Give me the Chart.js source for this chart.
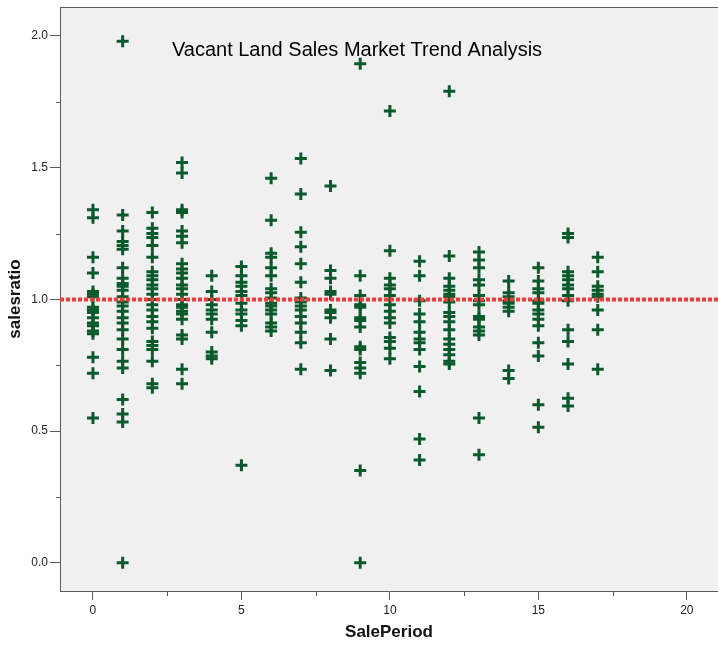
<!DOCTYPE html>
<html>
<head>
<meta charset="utf-8">
<title>Vacant Land Sales Market Trend Analysis</title>
<script src="https://cdn.jsdelivr.net/npm/chart.js@4.4.1/dist/chart.umd.min.js"></script>
<style>
  html, body { margin: 0; padding: 0; background: #fff; }
  #wrap { width: 718px; height: 649px; }
</style>
</head>
<body>
<div id="wrap"><canvas id="salesChart" width="718" height="649"></canvas></div>
<script>
// ==========================================
// Data
// ==========================================
const chartTitle = "Vacant Land Sales Market Trend Analysis";
const xTitle = "SalePeriod";
const yTitle = "salesratio";

// tick labels
const xTicks = [0, 5, 10, 15, 20];
const xMinorTicks = [2.5, 7.5, 12.5, 17.5];
const yTicks = [0, 0.5, 1.0, 1.5, 2.0];
const yMinorTicks = [0.25, 0.75, 1.25, 1.75];

// reference line
const referenceRatio = 1.0;

// sales ratios per sale period
const period0 = [1.34, 1.31, 1.16, 1.10, 1.03, 1.02, 1.01, 0.97, 0.96, 0.95, 0.93, 0.91, 0.90, 0.88, 0.87, 0.78, 0.72, 0.55];
const period1 = [1.98, 1.32, 1.26, 1.22, 1.205, 1.19, 1.12, 1.08, 1.06, 1.05, 1.035, 1.01, 0.99, 0.975, 0.955, 0.93, 0.91, 0.885, 0.85, 0.81, 0.765, 0.74, 0.62, 0.565, 0.535, 0.0];
const period2 = [1.33, 1.27, 1.25, 1.235, 1.205, 1.16, 1.105, 1.09, 1.075, 1.055, 1.04, 1.02, 1.0, 0.98, 0.96, 0.935, 0.915, 0.89, 0.84, 0.825, 0.81, 0.765, 0.68, 0.665];
const period3 = [1.52, 1.48, 1.34, 1.33, 1.26, 1.24, 1.215, 1.135, 1.115, 1.10, 1.08, 1.055, 1.04, 1.02, 1.0, 0.98, 0.97, 0.955, 0.945, 0.925, 0.865, 0.85, 0.735, 0.68];
const period4 = [1.09, 1.03, 1.0, 0.98, 0.96, 0.945, 0.925, 0.875, 0.80, 0.785, 0.775];
const period5 = [1.125, 1.09, 1.065, 1.05, 1.03, 1.015, 0.985, 0.96, 0.945, 0.92, 0.90, 0.37];
const period6 = [1.46, 1.30, 1.175, 1.16, 1.12, 1.09, 1.04, 1.025, 1.005, 0.985, 0.975, 0.96, 0.945, 0.91, 0.895, 0.88];
const period7 = [1.535, 1.40, 1.255, 1.20, 1.135, 1.065, 1.005, 0.99, 0.975, 0.96, 0.935, 0.91, 0.875, 0.835, 0.735];
const period8 = [1.43, 1.11, 1.08, 1.03, 1.02, 0.96, 0.95, 0.93, 0.85, 0.73];
const period9 = [1.895, 1.09, 1.015, 0.98, 0.97, 0.93, 0.92, 0.895, 0.82, 0.81, 0.76, 0.74, 0.72, 0.35, 0.0];
const period10 = [1.715, 1.185, 1.08, 1.055, 1.04, 1.015, 0.98, 0.955, 0.93, 0.91, 0.855, 0.84, 0.815, 0.775];
const period11 = [1.145, 1.09, 0.995, 0.945, 0.915, 0.875, 0.85, 0.835, 0.81, 0.745, 0.65, 0.47, 0.39];
const period12 = [1.79, 1.165, 1.08, 1.05, 1.035, 1.02, 1.01, 0.99, 0.95, 0.935, 0.915, 0.885, 0.85, 0.83, 0.81, 0.79, 0.765, 0.755];
const period13 = [1.18, 1.15, 1.12, 1.075, 1.055, 1.015, 0.995, 0.98, 0.935, 0.925, 0.895, 0.88, 0.865, 0.55, 0.41];
const period14 = [1.07, 1.025, 1.01, 0.995, 0.985, 0.97, 0.955, 0.73, 0.70];
const period15 = [1.12, 1.07, 1.04, 1.025, 0.995, 0.985, 0.96, 0.945, 0.925, 0.90, 0.835, 0.785, 0.60, 0.515];
const period16 = [1.25, 1.235, 1.105, 1.09, 1.075, 1.055, 1.04, 1.015, 0.995, 0.885, 0.84, 0.755, 0.625, 0.595];
const period17 = [1.16, 1.105, 1.05, 1.035, 1.02, 1.01, 0.96, 0.885, 0.735];

const salePeriods = [0, 1, 2, 3, 4, 5, 6, 7, 8, 9, 10, 11, 12, 13, 14, 15, 16, 17];
const periodRatios = [period0, period1, period2, period3, period4, period5, period6, period7, period8,
  period9, period10, period11, period12, period13, period14, period15, period16, period17];

// axis ranges
const xMin = -1.11, xMax = 21.05;
const yMin = -0.107, yMax = 2.11;

// ==========================================
// Styling
// ==========================================
const fontFamily = "'Liberation Sans', Arial, Helvetica, sans-serif";
const axisColor = '#5a5a5a';
const plotBg = '#f0f0f0';
const markerColor = '#0b5a2c';
const refLineColor = '#f23a3a';

// build scatter points from the arrays
const scatterPoints = [];
salePeriods.forEach(function (period, i) {
  periodRatios[i].forEach(function (ratio) {
    scatterPoints.push({ x: period, y: ratio });
  });
});

// ==========================================
// Plugins
// ==========================================
const plotFrame = {
  id: 'plotFrame',
  beforeDraw: function (chart) {
    const ctx = chart.ctx;
    const a = chart.chartArea;
    ctx.save();
    ctx.fillStyle = '#ffffff';
    ctx.fillRect(0, 0, chart.width, chart.height);
    ctx.fillStyle = plotBg;
    ctx.fillRect(a.left, a.top, a.right - a.left, a.bottom - a.top);
    ctx.restore();
  },
  afterDraw: function (chart) {
    const ctx = chart.ctx;
    const a = chart.chartArea;
    const xs = chart.scales.x;
    const ys = chart.scales.y;
    ctx.save();
    ctx.strokeStyle = axisColor;
    ctx.lineWidth = 1;
    // top border
    ctx.beginPath();
    ctx.moveTo(a.left, a.top + 0.5);
    ctx.lineTo(a.right, a.top + 0.5);
    ctx.stroke();
    // minor ticks
    ctx.beginPath();
    xMinorTicks.forEach(function (v) {
      const px = Math.round(xs.getPixelForValue(v)) + 0.5;
      ctx.moveTo(px, a.bottom);
      ctx.lineTo(px, a.bottom + 5);
    });
    yMinorTicks.forEach(function (v) {
      const py = Math.round(ys.getPixelForValue(v)) + 0.5;
      ctx.moveTo(a.left - 4, py);
      ctx.lineTo(a.left, py);
    });
    ctx.stroke();
    // chart title inside the plot
    ctx.fillStyle = '#000';
    ctx.font = '20px ' + fontFamily;
    ctx.textAlign = 'center';
    ctx.textBaseline = 'alphabetic';
    ctx.fillText(chartTitle, 357, 56);
    ctx.restore();
  }
};

// ==========================================
// Chart
// ==========================================
new Chart(document.getElementById('salesChart'), {
  type: 'scatter',
  data: {
    datasets: [
      {
        type: 'line',
        label: 'reference',
        data: [{ x: xMin, y: referenceRatio }, { x: xMax, y: referenceRatio }],
        borderColor: refLineColor,
        borderWidth: 4,
        borderDash: [4, 2],
        pointRadius: 0,
        fill: false,
        order: 0
      },
      {
        label: yTitle,
        data: scatterPoints,
        pointStyle: 'cross',
        pointRadius: 6,
        pointBorderWidth: 3,
        borderColor: markerColor,
        backgroundColor: markerColor,
        order: 1
      }
    ]
  },
  options: {
    responsive: false,
    animation: false,
    devicePixelRatio: 1,
    layout: { autoPadding: false, padding: { top: 7, right: 0, bottom: 0, left: 0 } },
    plugins: {
      legend: { display: false },
      tooltip: { enabled: false },
      title: { display: false }
    },
    scales: {
      x: {
        type: 'linear',
        min: xMin,
        max: xMax,
        afterBuildTicks: function (s) { s.ticks = xTicks.map(function (v) { return { value: v }; }); },
        afterFit: function (s) {
          s.height = 58;
          s.paddingLeft = 0;
          s.paddingRight = 0;
        },
        grid: { drawOnChartArea: false, drawTicks: true, tickLength: 9, tickColor: axisColor },
        border: { display: true, color: axisColor, width: 1 },
        ticks: {
          color: '#222',
          font: { family: fontFamily, size: 12 },
          padding: 3,
          maxRotation: 0,
          autoSkip: false,
          callback: function (v) { return String(v); }
        },
        title: {
          display: true,
          text: xTitle,
          color: '#111',
          font: { family: fontFamily, size: 17, weight: 'bold' },
          padding: { top: 0, bottom: 6 }
        }
      },
      y: {
        type: 'linear',
        min: yMin,
        max: yMax,
        afterBuildTicks: function (s) { s.ticks = yTicks.map(function (v) { return { value: v }; }); },
        afterFit: function (s) {
          s.width = 60;
          s.paddingTop = 0;
          s.paddingBottom = 0;
        },
        grid: { drawOnChartArea: false, drawTicks: true, tickLength: 10, tickColor: axisColor },
        border: { display: true, color: axisColor, width: 1 },
        ticks: {
          color: '#222',
          font: { family: fontFamily, size: 12 },
          padding: 2,
          autoSkip: false,
          callback: function (v) { return Number(v).toFixed(1); }
        },
        title: {
          display: true,
          text: yTitle,
          color: '#111',
          font: { family: fontFamily, size: 17, weight: 'bold' },
          padding: { top: 5, bottom: 0 }
        }
      }
    }
  },
  plugins: [plotFrame]
});
</script>
</body>
</html>
